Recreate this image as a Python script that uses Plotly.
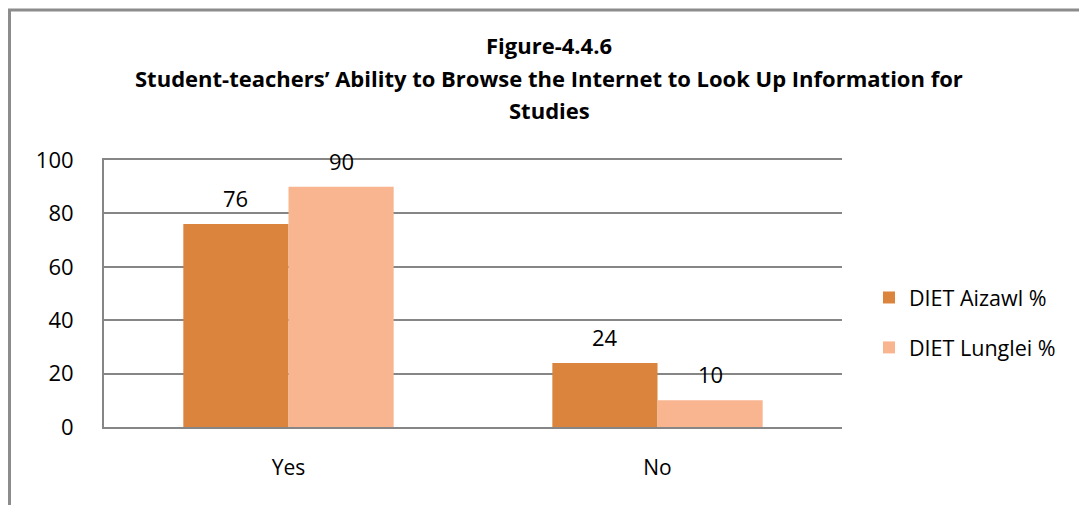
import plotly.graph_objects as go

categories = ["Yes", "No"]
aizawl = [76, 24]
lunglei = [90, 10]
series_names = ["DIET Aizawl %", "DIET Lunglei %"]
colors = ["#DB843E", "#F8B590"]

FONT = "Open Sans"

L, R, T, B = 104, 237, 160, 78
W, H = 1079, 505
pw = W - L - R
ph = H - T - B
BARGAP = 0.43
bar_px = pw / len(categories) * (1 - BARGAP) / 2

def px_x(px):
    return (px - L) / pw

def px_y(py):
    return (H - B - py) / ph

fig = go.Figure()
for i, (name, vals, col) in enumerate(zip(series_names, [aizawl, lunglei], colors)):
    fig.add_trace(go.Bar(
        x=categories, y=vals, name=name, marker_color=col,
        marker_line_width=0, legendgroup=name,
    ))
    for c, v in zip(categories, vals):
        fig.add_annotation(
            x=c, y=v, xref="x", yref="y", text=str(v), showarrow=False,
            xshift=(i - 0.5) * bar_px, yshift=26, yanchor="middle",
            font=dict(family=FONT, size=22, color="#000000"),
        )

fig.update_layout(
    width=W, height=H,
    margin=dict(l=L, r=R, t=T, b=B, pad=0),
    paper_bgcolor="white", plot_bgcolor="white",
    barmode="group", bargap=BARGAP, bargroupgap=0,
    font=dict(family=FONT, color="#000000"),
    showlegend=True,
    legend=dict(
        x=px_x(869), y=px_y(277), xanchor="left", yanchor="top",
        font=dict(family=FONT, size=21.5, color="#000000"),
        itemsizing="constant", tracegroupgap=19, bgcolor="rgba(0,0,0,0)",
        traceorder="grouped",
    ),
    xaxis=dict(
        showgrid=False, showline=True, linecolor="#868686", linewidth=2,
        ticks="", tickfont=dict(family=FONT, size=21, color="#000000"),
        ticklabelstandoff=21, mirror=True,
    ),
    yaxis=dict(
        range=[0, 100], dtick=20, showgrid=True, gridcolor="#868686",
        gridwidth=2, showline=True, linecolor="#868686", linewidth=2,
        ticks="", tickfont=dict(family=FONT, size=22, color="#000000"),
        ticklabelstandoff=24, zeroline=False,
    ),
)

title_lines = [
    ("Figure-4.4.6", 45),
    ("Student-teachers\u2019 Ability to Browse the Internet to Look Up Information for", 78),
    ("Studies", 110),
]
for txt, yc in title_lines:
    fig.add_annotation(
        text=f"<b>{txt}</b>", xref="paper", yref="paper",
        x=px_x(549), y=px_y(yc), xanchor="center", yanchor="middle",
        showarrow=False, font=dict(family=FONT, size=22, color="#000000"),
    )

# outer chart border (top and left visible)
fig.add_shape(type="line", xref="paper", yref="paper",
              x0=px_x(8), x1=px_x(1079), y0=px_y(10), y1=px_y(10),
              line=dict(color="#8C8C8C", width=3))
fig.add_shape(type="line", xref="paper", yref="paper",
              x0=px_x(9.5), x1=px_x(9.5), y0=px_y(9), y1=px_y(505),
              line=dict(color="#8C8C8C", width=3))

fig.write_html("out.html")
